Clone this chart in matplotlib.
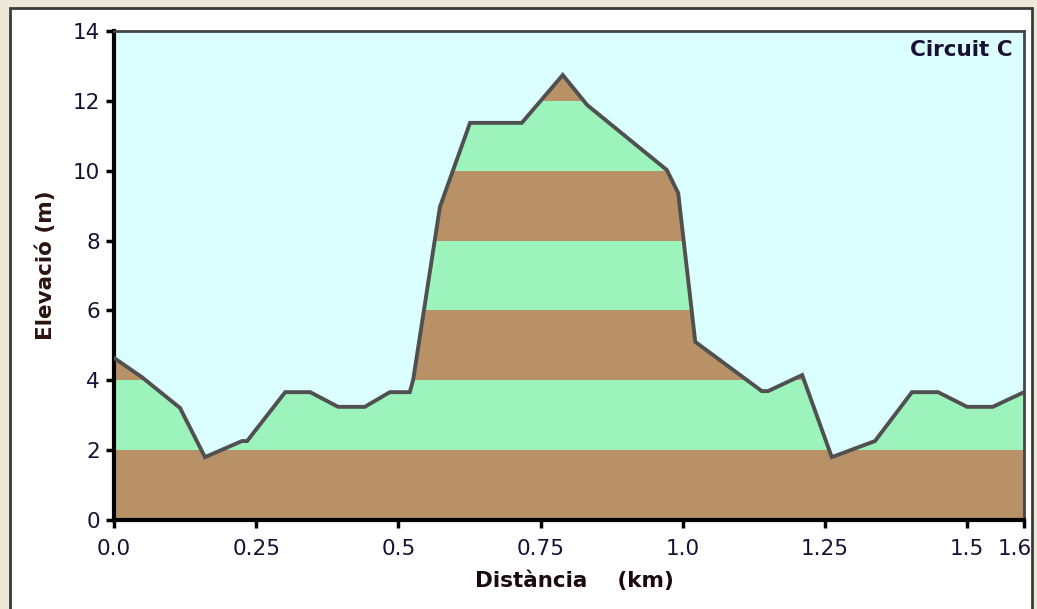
import matplotlib
matplotlib.use('Agg')
import matplotlib.pyplot as plt
from matplotlib.patches import Polygon, Rectangle
from matplotlib.transforms import ScaledTranslation
import numpy as np

# Profile of the route (distance in km, elevation in m)
distance = [0.000, 0.049, 0.116, 0.160, 0.225, 0.234, 0.301, 0.345, 0.394, 0.441,
            0.485, 0.520, 0.526, 0.573, 0.626, 0.717, 0.789, 0.832, 0.972, 0.992,
            1.022, 1.139, 1.150, 1.210, 1.262, 1.338, 1.403, 1.449, 1.500, 1.545, 1.600]
elevation = [4.64, 4.09, 3.21, 1.80, 2.26, 2.26, 3.66, 3.66, 3.24, 3.24,
             3.66, 3.66, 4.01, 8.96, 11.37, 11.37, 12.74, 11.88, 10.02, 9.36,
             5.10, 3.69, 3.69, 4.15, 1.80, 2.26, 3.66, 3.66, 3.24, 3.24, 3.66]

x_ticks = [0.0, 0.25, 0.5, 0.75, 1.0, 1.25, 1.5, 1.6]
x_tick_labels = ['0.0', '0.25', '0.5', '0.75', '1.0', '1.25', '1.5', '1.6']
y_ticks = [0, 2, 4, 6, 8, 10, 12, 14]
band_edges = [0, 2, 4, 6, 8, 10, 12, 14]

brown = '#b89266'
green = '#9cf4bc'
sky = '#dbfeff'
text_col = '#1a1033'

fig = plt.figure(figsize=(10.37, 6.09), dpi=100)
fig.patch.set_facecolor('#ece9d8')

# white window panel with dark border, behind the axes
fig.patches.append(Rectangle((10 / 1037, -0.05), 1022 / 1037, 1 - 8 / 609 + 0.05,
                             transform=fig.transFigure, facecolor='white',
                             edgecolor='#3c3c3c', linewidth=2, zorder=-5))

ax = fig.add_axes([114 / 1037, 1 - 520 / 609, 910 / 1037, 489 / 609])
ax.set_zorder(2)
ax.set_facecolor(sky)
ax.set_xlim(0, 1.6)
ax.set_ylim(0, 14)

x = np.array(distance)
y = np.array(elevation)
verts = np.column_stack([np.r_[x[0], x, x[-1]], np.r_[0, y, 0]])
ground = Polygon(verts, closed=True, facecolor='none', edgecolor='none',
                 transform=ax.transData)
ax.add_patch(ground)

for i in range(len(band_edges) - 1):
    col = brown if i % 2 == 0 else green
    band = ax.axhspan(band_edges[i], band_edges[i + 1], color=col, lw=0, zorder=1)
    band.set_clip_path(ground)

ax.plot(x, y, color='#505050', lw=2.8, zorder=3, solid_joinstyle='miter')

ax.set_xticks(x_ticks)
ax.set_xticklabels(x_tick_labels)
ax.set_yticks(y_ticks)
ax.tick_params(axis='both', direction='out', length=6, width=2.5, color='black',
               labelsize=15.5, labelcolor=text_col)
ax.tick_params(axis='x', pad=8)
ax.tick_params(axis='y', pad=4)

# last label sits a little to the left of its tick, as in the original
last = ax.get_xticklabels()[-1]
last.set_transform(last.get_transform() + ScaledTranslation(-9 / 100, 0, fig.dpi_scale_trans))

for side in ['left', 'bottom']:
    ax.spines[side].set_linewidth(3)
    ax.spines[side].set_color('black')
for side in ['top', 'right']:
    ax.spines[side].set_linewidth(2)
    ax.spines[side].set_color('#454545')

fig.text(46 / 1037, 1 - 265 / 609, 'Elevació (m)', fontsize=15.5, fontweight='bold',
         color='#2a1410', rotation=90, ha='center', va='center')
fig.text(574 / 1037, 1 - 581 / 609, 'Distància    (km)', fontsize=15.5, fontweight='bold',
         color='#1a0a10', ha='center', va='center')
ax.text(0.987, 0.982, 'Circuit C', transform=ax.transAxes, fontsize=15.5,
        fontweight='bold', color=text_col, ha='right', va='top')

fig.savefig('out.png', dpi=100, facecolor=fig.get_facecolor())
